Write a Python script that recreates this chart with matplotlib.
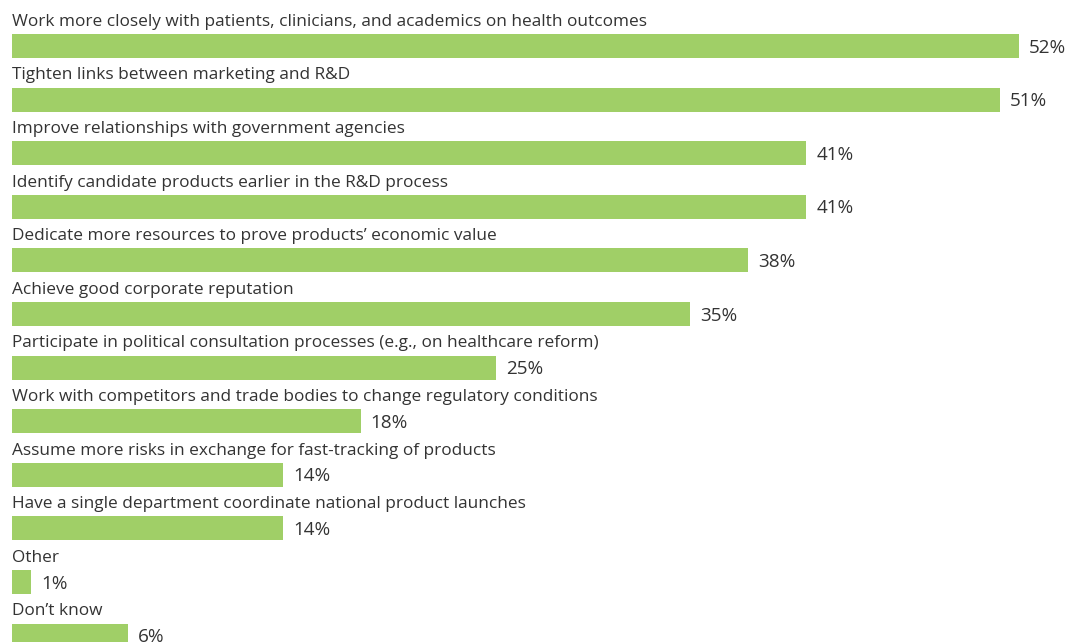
import matplotlib.pyplot as plt

# Survey responses, top to bottom
labels = [
    "Work more closely with patients, clinicians, and academics on health outcomes",
    "Tighten links between marketing and R&D",
    "Improve relationships with government agencies",
    "Identify candidate products earlier in the R&D process",
    "Dedicate more resources to prove products\u2019 economic value",
    "Achieve good corporate reputation",
    "Participate in political consultation processes (e.g., on healthcare reform)",
    "Work with competitors and trade bodies to change regulatory conditions",
    "Assume more risks in exchange for fast-tracking of products",
    "Have a single department coordinate national product launches",
    "Other",
    "Don\u2019t know",
]
values = [52, 51, 41, 41, 38, 35, 25, 18, 14, 14, 1, 6]

BAR_COLOR = "#a0cf67"
TEXT_COLOR = "#333333"

plt.rcParams["font.family"] = ["Open Sans", "DejaVu Sans"]

fig = plt.figure(figsize=(10.68, 6.42), dpi=100)
ax = fig.add_axes([0, 0, 1, 1])

rows = list(range(len(values)))
ax.barh(rows, values, height=0.45, color=BAR_COLOR, align="center")

for i, (lab, v) in enumerate(zip(labels, values)):
    ax.text(0, i - 0.45, lab, ha="left", va="center",
            fontsize=12.4, color=TEXT_COLOR)
    ax.text(v + 0.52, i + 0.03, f"{v}%", ha="left", va="center",
            fontsize=13.6, color=TEXT_COLOR)

px_per_pct = 19.37
ax.set_xlim(-12 / px_per_pct, (1068 - 12) / px_per_pct)
row_px = 53.6
ax.set_ylim((642 - 46) / row_px, -46 / row_px)
ax.axis("off")

fig.savefig("out.png", dpi=100)
